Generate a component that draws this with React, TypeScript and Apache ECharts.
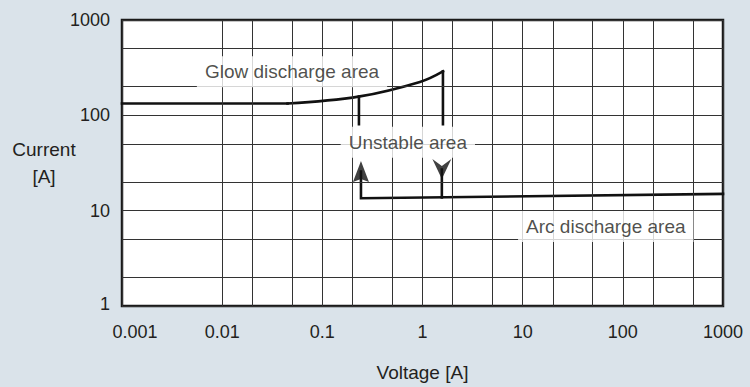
import React, { useEffect, useRef } from 'react';
import * as echarts from 'echarts';

// Tick labels (decades)
const xTickLabels = ['0.001', '0.01', '0.1', '1', '10', '100', '1000'];
const yTickLabels = ['1', '10', '100', '1000'];

// Intermediate grid lines (2 and 5 of each decade)
const xMinorGrid = [0.002, 0.005, 0.02, 0.05, 0.2, 0.5, 2, 5, 20, 50, 200, 500];
const yMinorGrid = [2, 5, 20, 50, 200, 500];

// Glow discharge characteristic [voltage, current]
const glowFlat: [number, number][] = [[0.001, 133], [0.045, 133]];
const glowCurve: [number, number][] = [
  [0.045, 133], [0.237, 158], [0.942, 224], [1.6, 289],
];
const glowDrop: [number, number][] = [[1.6, 289], [1.6, 80.5]];
const glowTick: [number, number][] = [[0.232, 157], [0.232, 80.5]];

// Arc discharge characteristic
const arcLine: [number, number][] = [[0.243, 25.8], [0.243, 13.5], [1000, 15]];
const downShaft: [number, number][] = [[1.56, 27], [1.56, 13.8]];

// Arrow heads
const upArrow: [number, number][] = [[0.243, 25.8]];
const downArrow: [number, number][] = [[1.56, 27.4]];

// Annotations
const annotationNames = ['Glow discharge area', 'Unstable area', 'Arc discharge area'];
const annotationX = [0.0498, 0.714, 67.6];
const annotationY = [287, 52.3, 6.81];

const FONT = '"Liberation Sans", Arial, Helvetica, sans-serif';
const TEXT = '#231f20';

export default function App() {
  const ref = useRef<HTMLDivElement>(null);

  useEffect(() => {
    document.body.style.margin = '0';
    const chart = echarts.init(ref.current!, undefined, { renderer: 'svg' });

    const lineStyle = { color: '#111', width: 2.6, cap: 'square' as const, join: 'miter' as const };
    const lineSeries = (data: [number, number][], smooth = false) => ({
      type: 'line',
      data,
      symbol: 'none',
      silent: true,
      smooth: smooth ? 0.4 : false,
      z: 4,
      lineStyle,
      emphasis: { disabled: true },
    });

    const decadeIdx = (v: number) => Math.round(Math.log10(v));

    chart.setOption({
      animation: false,
      backgroundColor: '#dae3ea',
      textStyle: { fontFamily: FONT },
      grid: {
        left: 122,
        right: 27,
        top: 20,
        bottom: 79,
        show: true,
        backgroundColor: '#ffffff',
        borderColor: '#1a1a1a',
        borderWidth: 2.5,
      },
      xAxis: {
        type: 'log',
        logBase: 10,
        min: 0.001,
        max: 1000,
        splitNumber: 6,
        axisLine: { show: false },
        axisTick: { show: false },
        splitLine: { show: true, lineStyle: { color: '#333', width: 1 } },
        axisLabel: {
          color: TEXT,
          fontSize: 18,
          fontFamily: FONT,
          margin: 17,
          formatter: (v: number) => {
            const i = decadeIdx(v) + 3;
            const s = xTickLabels[i] ?? String(v);
            return i === 0 ? '{m|' + s + '}' : s;
          },
          rich: { m: { padding: [0, 0, 0, 26], fontSize: 18, color: TEXT, fontFamily: FONT } },
        },
        name: 'Voltage [A]',
        nameLocation: 'middle',
        nameGap: 57,
        nameMoveOverlap: false,
        nameTextStyle: { color: TEXT, fontSize: 19, fontFamily: FONT },
      },
      yAxis: {
        type: 'log',
        logBase: 10,
        min: 1,
        max: 1000,
        splitNumber: 3,
        axisLine: { show: false },
        axisTick: { show: false },
        splitLine: { show: true, lineStyle: { color: '#333', width: 1 } },
        axisLabel: {
          color: TEXT,
          fontSize: 18,
          fontFamily: FONT,
          margin: 12,
          formatter: (v: number) => {
            const i = decadeIdx(v);
            const s = yTickLabels[i] ?? String(v);
            return i === 0 ? '{m|' + s + '}' : s;
          },
          rich: { m: { padding: [0, 0, 4, 0], fontSize: 18, color: TEXT, fontFamily: FONT } },
        },
        name: 'Current\n[A]',
        nameLocation: 'middle',
        nameRotate: 0,
        nameGap: 78,
        nameMoveOverlap: false,
        nameTextStyle: { color: TEXT, fontSize: 19, fontFamily: FONT, align: 'center', lineHeight: 27 },
      },
      series: [
        {
          type: 'line',
          data: [],
          silent: true,
          z: 1,
          markLine: {
            silent: true,
            symbol: ['none', 'none'],
            label: { show: false },
            lineStyle: { color: '#333', width: 1, type: 'solid' },
            emphasis: { disabled: true },
            data: [
              ...xMinorGrid.map((v) => ({ xAxis: v })),
              ...yMinorGrid.map((v) => ({ yAxis: v })),
            ],
          },
        },
        lineSeries(glowFlat),
        lineSeries(glowCurve, true),
        lineSeries(glowDrop),
        lineSeries(glowTick),
        lineSeries(arcLine),
        lineSeries(downShaft),
        {
          type: 'scatter',
          data: upArrow,
          silent: true,
          z: 5,
          symbol: 'path://M8,0 L16,21 L8,18 L0,21 Z',
          symbolSize: [16, 21],
          itemStyle: { color: '#111' },
        },
        {
          type: 'scatter',
          data: downArrow,
          silent: true,
          z: 5,
          symbol: 'path://M0,0 L9.5,7 L19,0 L9.5,20 Z',
          symbolSize: [19, 20],
          itemStyle: { color: '#111' },
        },
        {
          type: 'scatter',
          silent: true,
          z: 6,
          symbolSize: 0,
          data: annotationNames.map((n, i) => ({ name: n, value: [annotationX[i], annotationY[i]] })),
          label: {
            show: true,
            position: 'inside',
            formatter: '{b}',
            color: TEXT,
            fontSize: 19,
            fontFamily: FONT,
            backgroundColor: '#ffffff',
            padding: [6, 8, 6, 8],
          },
        },
      ],
    });

    return () => chart.dispose();
  }, []);

  return <div ref={ref} style={{ width: 750, height: 387 }} />;
}
